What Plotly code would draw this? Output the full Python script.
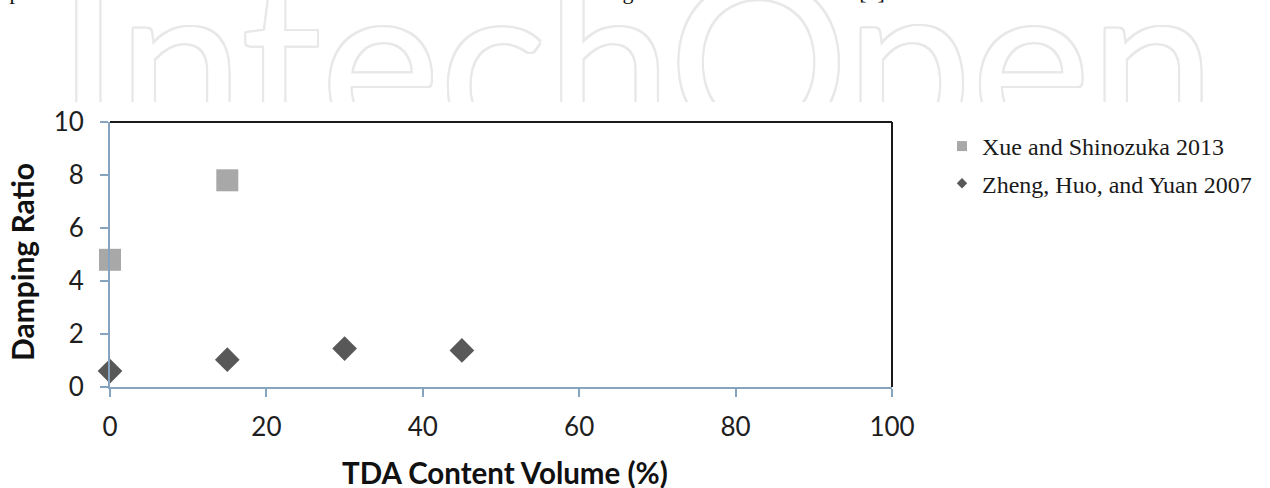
import plotly.graph_objects as go

# ---- data ----
xue_x = [0, 15]
xue_y = [4.8, 7.8]
zheng_x = [0, 15, 30, 45]
zheng_y = [0.6, 1.03, 1.45, 1.38]
series_names = ["Xue and Shinozuka 2013", "Zheng, Huo, and Yuan 2007"]
x_ticks = [0, 20, 40, 60, 80, 100]
y_ticks = [0, 2, 4, 6, 8, 10]
x_title = "TDA Content Volume (%)"
y_title = "Damping Ratio"
watermark = "IntechOpen"
top_fragments = ["p", "g", "[1]"]
top_fragment_x = [15, 628, 872]

W, H = 1270, 488
# plot area in pixels
PL, PR, PT, PB = 110, 892, 122, 387

def px_x(p):
    return p / W

def px_y(p):
    return 1 - p / H

AXIS_COL = "#86a4bf"
TICK_FONT = dict(family="Lato", size=26, color="#1e1e1e")
WM_COL = "#e8e8e8"
wm_shadow = ", ".join(f"{dx}px {dy}px 0 {WM_COL}" for dx, dy in
                      [(2, 0), (-2, 0), (0, 2), (0, -2), (2, 2), (-2, -2), (2, -2), (-2, 2)])

fig = go.Figure()

# main traces
fig.add_trace(go.Scatter(
    x=xue_x, y=xue_y, mode="markers", name=series_names[0], showlegend=False,
    marker=dict(symbol="square", size=22, color="#a8a8a8"), cliponaxis=False))
fig.add_trace(go.Scatter(
    x=zheng_x, y=zheng_y, mode="markers", name=series_names[1], showlegend=False,
    marker=dict(symbol="diamond", size=19, color="#585858"), cliponaxis=False))

# legend-only entries (small markers as in the reference)
fig.add_trace(go.Scatter(
    x=[None], y=[None], mode="markers", name=series_names[0], legendgroup="a",
    marker=dict(symbol="square", size=10, color="#a8a8a8")))
fig.add_trace(go.Scatter(
    x=[None], y=[None], mode="markers", name=series_names[1], legendgroup="b",
    marker=dict(symbol="diamond", size=8, color="#585858")))

# watermark on its own hidden axes so it is clipped
fig.add_trace(go.Scatter(
    x=[636], y=[86], mode="text", text=[watermark], showlegend=False,
    xaxis="x2", yaxis="y2", cliponaxis=True, hoverinfo="skip",
    textposition="middle center",
    textfont=dict(family="Lato", size=224, color="#ffffff", shadow=wm_shadow)))
fig.add_trace(go.Scatter(
    x=top_fragment_x, y=[-7] * len(top_fragment_x), mode="text", text=top_fragments,
    showlegend=False, xaxis="x2", yaxis="y2", cliponaxis=True, hoverinfo="skip",
    textposition="middle center",
    textfont=dict(family="Liberation Serif", size=22, color="#111111")))

fig.update_layout(
    template="none",
    width=W, height=H,
    margin=dict(l=0, r=0, t=0, b=0, pad=0, autoexpand=False),
    paper_bgcolor="white", plot_bgcolor="white",
    showlegend=True,
    legend=dict(x=px_x(942), y=px_y(124), xanchor="left", yanchor="top",
                font=dict(family="Liberation Serif", size=24, color="#1a1a1a"),
                traceorder="grouped", tracegroupgap=3, bgcolor="rgba(0,0,0,0)",
                borderwidth=0),
    xaxis=dict(domain=[px_x(PL), px_x(PR)], range=[0, 100], tickvals=x_ticks,
               showgrid=False, zeroline=False, showline=True, linecolor=AXIS_COL,
               linewidth=2, ticks="outside", ticklen=8, tickcolor=AXIS_COL, tickwidth=1.5,
               tickfont=TICK_FONT, ticklabelstandoff=8, automargin=False),
    yaxis=dict(domain=[px_y(PB), px_y(PT)], range=[0, 10], tickvals=y_ticks,
               showgrid=False, zeroline=False, showline=True, linecolor=AXIS_COL,
               linewidth=2, ticks="outside", ticklen=8, tickcolor=AXIS_COL, tickwidth=1.5,
               tickfont=TICK_FONT, ticklabelstandoff=11, automargin=False),
    xaxis2=dict(domain=[0, 1], range=[0, W], visible=False, anchor="y2", automargin=False),
    yaxis2=dict(domain=[px_y(102), 1], range=[102, 0], visible=False, anchor="x2",
                automargin=False),
    shapes=[
        dict(type="line", xref="x domain", yref="y domain", x0=0, x1=1, y0=1, y1=1,
             line=dict(color="#1a1a1a", width=2)),
        dict(type="line", xref="x domain", yref="y domain", x0=1, x1=1, y0=0, y1=1,
             line=dict(color="#1a1a1a", width=2)),
    ],
    annotations=[
        dict(text="<b>" + x_title + "</b>", xref="paper", yref="paper",
             x=px_x(505), y=px_y(472), xanchor="center", yanchor="middle", showarrow=False,
             font=dict(family="Lato", size=29.5, color="#111111")),
        dict(text="<b>" + y_title + "</b>", xref="paper", yref="paper",
             x=px_x(22), y=px_y(262), xanchor="center", yanchor="middle", showarrow=False,
             textangle=-90, borderpad=0,
             font=dict(family="Lato", size=30, color="#111111")),
    ],
)

fig.write_html("out.html", config={"displayModeBar": False},
               post_script="document.body.style.margin='0px';")
